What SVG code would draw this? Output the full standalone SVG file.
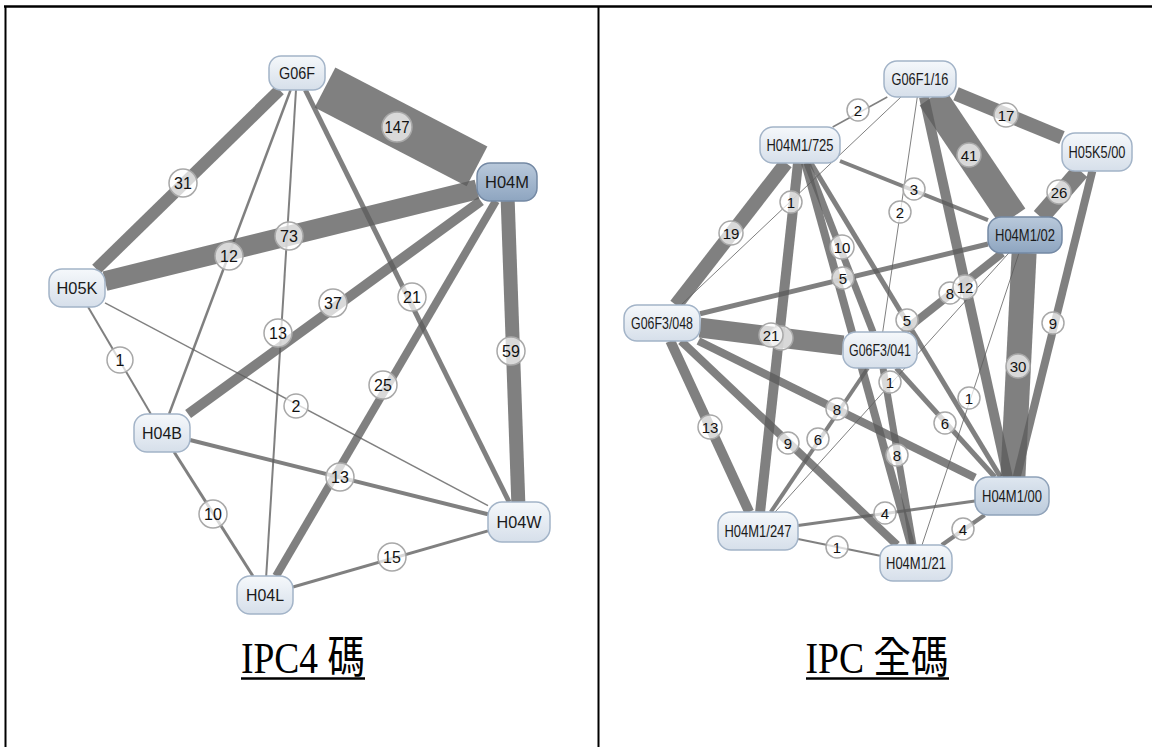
<svg xmlns="http://www.w3.org/2000/svg" width="1152" height="747" viewBox="0 0 1152 747">
  <defs>
    <linearGradient id="gNode" x1="0" y1="0" x2="0" y2="1">
      <stop offset="0" stop-color="#f5f8fb"/>
      <stop offset="1" stop-color="#d6dfea"/>
    </linearGradient>
    <linearGradient id="gSel" x1="0" y1="0" x2="0" y2="1">
      <stop offset="0" stop-color="#b9c9db"/>
      <stop offset="1" stop-color="#8ea5c0"/>
    </linearGradient>
    <linearGradient id="gMid" x1="0" y1="0" x2="0" y2="1">
      <stop offset="0" stop-color="#dfe7f0"/>
      <stop offset="1" stop-color="#bccbdc"/>
    </linearGradient>
  </defs>
  <style>
    .frame { stroke: #000; fill: none; }
    .e { stroke: #5c5c5c; stroke-opacity: 0.78; fill: none; stroke-linecap: butt; }
    .lb circle { fill: #fff; fill-opacity: 0.7; stroke: #a8a8a8; stroke-width: 1.5; }
    .lb text { font-family: "Liberation Sans", Arial, sans-serif; font-size: 16px; fill: #111; text-anchor: middle; }
    .rg .lb text { font-size: 15px; }
    .node rect { fill: url(#gNode); stroke: #a3b4c8; stroke-width: 1.5; }
    .node.sel rect { fill: url(#gSel); stroke: #7489a4; }
    .node.mid rect { fill: url(#gMid); stroke: #8fa2b9; }
    .node text { font-family: "Liberation Sans", Arial, sans-serif; font-size: 17px; fill: #1a1a1a; text-anchor: middle; }
    .rg .node text { font-size: 17px; }
    .cap { font-family: "Liberation Serif", "Noto Sans CJK TC", serif; font-size: 44px; fill: #000; text-anchor: middle; }
  </style>

  <rect width="1152" height="747" fill="#fff"/>

  <!-- table frame -->
  <g id="frame">
    <line class="frame" x1="4" y1="6.5" x2="1152" y2="6.5" stroke-width="2.5"/>
    <line class="frame" x1="5.5" y1="6" x2="5.5" y2="747" stroke-width="2"/>
    <line class="frame" x1="598.5" y1="6" x2="598.5" y2="747" stroke-width="2"/>
  </g>

  <!-- ===== IPC4 graph ===== -->
  <g id="left-graph" class="lg">
    <g id="left-connectors">
      <line class="e" x1="325" y1="87.5" x2="477" y2="166.4" stroke-width="45"/>
      <line class="e" x1="279.6" y1="90" x2="96.4" y2="269" stroke-width="12"/>
      <line class="e" x1="105" y1="281.1" x2="477" y2="189.4" stroke-width="20"/>
      <line class="e" x1="290.6" y1="90" x2="169.1" y2="414" stroke-width="2.5"/>
      <line class="e" x1="296" y1="90" x2="266.2" y2="576" stroke-width="2"/>
      <line class="e" x1="188.1" y1="414" x2="480.9" y2="201" stroke-width="10"/>
      <line class="e" x1="305.4" y1="90" x2="509.1" y2="502" stroke-width="5"/>
      <line class="e" x1="507.7" y1="201" x2="518.3" y2="502" stroke-width="14"/>
      <line class="e" x1="495.9" y1="201" x2="276.1" y2="576" stroke-width="8"/>
      <line class="e" x1="105" y1="302.8" x2="488" y2="505.6" stroke-width="1.5"/>
      <line class="e" x1="88.1" y1="307" x2="150.9" y2="414" stroke-width="2"/>
      <line class="e" x1="190" y1="440" x2="488" y2="514.3" stroke-width="4"/>
      <line class="e" x1="174.1" y1="452" x2="252.9" y2="576" stroke-width="3"/>
      <line class="e" x1="293" y1="587" x2="488" y2="530.9" stroke-width="3"/>

      <g class="lb"><circle cx="397" cy="127" r="15"/><text x="397" y="133" textLength="25" lengthAdjust="spacingAndGlyphs">147</text></g>
      <g class="lb"><circle cx="183" cy="183" r="14"/><text x="183" y="189">31</text></g>
      <g class="lb"><circle cx="289" cy="236" r="14"/><text x="289" y="242">73</text></g>
      <g class="lb"><circle cx="229" cy="256" r="14"/><text x="229" y="262">12</text></g>
      <g class="lb"><circle cx="278" cy="333" r="14"/><text x="278" y="339">13</text></g>
      <g class="lb"><circle cx="333" cy="303" r="14"/><text x="333" y="309">37</text></g>
      <g class="lb"><circle cx="412" cy="297" r="14"/><text x="412" y="303">21</text></g>
      <g class="lb"><circle cx="511" cy="351" r="14"/><text x="511" y="357">59</text></g>
      <g class="lb"><circle cx="383" cy="385" r="14"/><text x="383" y="391">25</text></g>
      <g class="lb"><circle cx="296" cy="406" r="12"/><text x="296" y="412">2</text></g>
      <g class="lb"><circle cx="120" cy="360" r="13"/><text x="120" y="366">1</text></g>
      <g class="lb"><circle cx="340" cy="477" r="14"/><text x="340" y="483">13</text></g>
      <g class="lb"><circle cx="213" cy="514" r="14"/><text x="213" y="520">10</text></g>
      <g class="lb"><circle cx="392" cy="557" r="14"/><text x="392" y="563">15</text></g>
    </g>

    <g id="n-G06F" class="node"><rect x="269" y="56" width="56" height="34" rx="12"/><text x="297" y="79" textLength="36" lengthAdjust="spacingAndGlyphs">G06F</text></g>
    <g id="n-H04M" class="node sel"><rect x="477" y="163" width="60" height="38" rx="13"/><text x="507" y="188" textLength="44" lengthAdjust="spacingAndGlyphs">H04M</text></g>
    <g id="n-H05K" class="node"><rect x="49" y="269" width="56" height="38" rx="13"/><text x="77" y="294" textLength="41" lengthAdjust="spacingAndGlyphs">H05K</text></g>
    <g id="n-H04B" class="node"><rect x="134" y="414" width="56" height="38" rx="13"/><text x="162" y="439" textLength="40" lengthAdjust="spacingAndGlyphs">H04B</text></g>
    <g id="n-H04L" class="node"><rect x="237" y="576" width="56" height="38" rx="13"/><text x="265" y="601" textLength="38" lengthAdjust="spacingAndGlyphs">H04L</text></g>
    <g id="n-H04W" class="node"><rect x="488" y="502" width="62" height="40" rx="14"/><text x="519" y="528" textLength="45" lengthAdjust="spacingAndGlyphs">H04W</text></g>
  </g>

  <!-- ===== full IPC graph ===== -->
  <g id="right-graph" class="rg">
    <g id="right-connectors">
      <line class="e" x1="887.3" y1="97" x2="832.7" y2="127" stroke-width="1.5"/>
      <line class="e" x1="956" y1="93.8" x2="1062" y2="137.6" stroke-width="14"/>
      <line class="e" x1="932.1" y1="97" x2="1012.9" y2="217" stroke-width="30"/>
      <line class="e" x1="1080.5" y1="171" x2="1040.6" y2="217" stroke-width="18"/>
      <line class="e" x1="840" y1="161" x2="988" y2="220.2" stroke-width="4"/>
      <line class="e" x1="917.3" y1="97" x2="882.7" y2="332" stroke-width="1"/>
      <line class="e" x1="901" y1="97" x2="681" y2="305" stroke-width="1"/>
      <line class="e" x1="786.1" y1="163" x2="675.9" y2="305" stroke-width="14"/>
      <line class="e" x1="807" y1="163" x2="873" y2="332" stroke-width="7"/>
      <line class="e" x1="700" y1="313.8" x2="988" y2="244" stroke-width="5"/>
      <line class="e" x1="902.7" y1="332" x2="1002.3" y2="253" stroke-width="8"/>
      <line class="e" x1="924" y1="97" x2="1007.8" y2="477" stroke-width="10"/>
      <line class="e" x1="810.9" y1="163" x2="1000.5" y2="477" stroke-width="5"/>
      <line class="e" x1="700" y1="327.7" x2="843" y2="345.4" stroke-width="20"/>
      <line class="e" x1="798" y1="163" x2="760.1" y2="512" stroke-width="10"/>
      <line class="e" x1="1024.1" y1="253" x2="1012.9" y2="477" stroke-width="25"/>
      <line class="e" x1="1092.3" y1="171" x2="1016.7" y2="477" stroke-width="8"/>
      <line class="e" x1="1008.8" y1="253" x2="775.1" y2="512" stroke-width="1"/>
      <line class="e" x1="1019" y1="253" x2="922" y2="545" stroke-width="1"/>
      <line class="e" x1="896.3" y1="368" x2="994.8" y2="477" stroke-width="5"/>
      <line class="e" x1="698.4" y1="341" x2="975" y2="477.7" stroke-width="8"/>
      <line class="e" x1="867.9" y1="368" x2="770.8" y2="512" stroke-width="4"/>
      <line class="e" x1="681" y1="341" x2="897" y2="545" stroke-width="8"/>
      <line class="e" x1="670.3" y1="341" x2="749.2" y2="512" stroke-width="10"/>
      <line class="e" x1="883" y1="368" x2="913" y2="545" stroke-width="7"/>
      <line class="e" x1="805" y1="163" x2="911" y2="545" stroke-width="8"/>
      <line class="e" x1="798" y1="525.5" x2="975" y2="501.1" stroke-width="3"/>
      <line class="e" x1="941.8" y1="545" x2="984.7" y2="515" stroke-width="4"/>
      <line class="e" x1="798" y1="539.1" x2="880" y2="555.7" stroke-width="2"/>

      <g class="lb"><circle cx="858" cy="110" r="11"/><text x="858" y="115.5">2</text></g>
      <g class="lb"><circle cx="1006" cy="115" r="12"/><text x="1006" y="120.5">17</text></g>
      <g class="lb"><circle cx="969" cy="155" r="12"/><text x="969" y="160.5">41</text></g>
      <g class="lb"><circle cx="1059" cy="192" r="12"/><text x="1059" y="197.5">26</text></g>
      <g class="lb"><circle cx="914" cy="189" r="11"/><text x="914" y="194.5">3</text></g>
      <g class="lb"><circle cx="900" cy="212" r="11"/><text x="900" y="217.5">2</text></g>
      <g class="lb"><circle cx="791" cy="202" r="11"/><text x="791" y="207.5">1</text></g>
      <g class="lb"><circle cx="731" cy="233" r="12"/><text x="731" y="238.5">19</text></g>
      <g class="lb"><circle cx="842" cy="247" r="12"/><text x="842" y="252.5">10</text></g>
      <g class="lb"><circle cx="843" cy="278" r="11"/><text x="843" y="283.5">5</text></g>
      <g class="lb"><circle cx="950" cy="293" r="11"/><text x="950" y="298.5">8</text></g>
      <g class="lb"><circle cx="965" cy="287" r="12"/><text x="965" y="292.5">12</text></g>
      <g class="lb"><circle cx="907" cy="320" r="11"/><text x="907" y="325.5">5</text></g>
      <g class="lb"><circle cx="781" cy="338" r="12"/></g>
      <g class="lb"><circle cx="771" cy="335" r="12"/><text x="771" y="340.5">21</text></g>
      <g class="lb"><circle cx="1018" cy="366" r="12"/><text x="1018" y="371.5">30</text></g>
      <g class="lb"><circle cx="1053" cy="323" r="11"/><text x="1053" y="328.5">9</text></g>
      <g class="lb"><circle cx="890" cy="382" r="11"/><text x="890" y="387.5">1</text></g>
      <g class="lb"><circle cx="969" cy="398" r="11"/><text x="969" y="403.5">1</text></g>
      <g class="lb"><circle cx="945" cy="423" r="11"/><text x="945" y="428.5">6</text></g>
      <g class="lb"><circle cx="837" cy="409" r="11"/><text x="837" y="414.5">8</text></g>
      <g class="lb"><circle cx="818" cy="439" r="11"/><text x="818" y="444.5">6</text></g>
      <g class="lb"><circle cx="788" cy="443" r="11"/><text x="788" y="448.5">9</text></g>
      <g class="lb"><circle cx="710" cy="427" r="12"/><text x="710" y="432.5">13</text></g>
      <g class="lb"><circle cx="897" cy="455" r="11"/><text x="897" y="460.5">8</text></g>
      <g class="lb"><circle cx="885" cy="513" r="11"/><text x="885" y="518.5">4</text></g>
      <g class="lb"><circle cx="963" cy="529" r="11"/><text x="963" y="534.5">4</text></g>
      <g class="lb"><circle cx="837" cy="547" r="11"/><text x="837" y="552.5">1</text></g>
    </g>

    <g id="n-G06F1-16" class="node"><rect x="884" y="61" width="72" height="36" rx="13"/><text x="920" y="85" textLength="57" lengthAdjust="spacingAndGlyphs">G06F1/16</text></g>
    <g id="n-H04M1-725" class="node"><rect x="760" y="127" width="80" height="36" rx="13"/><text x="800" y="151" textLength="67" lengthAdjust="spacingAndGlyphs">H04M1/725</text></g>
    <g id="n-H05K5-00" class="node"><rect x="1062" y="133" width="70" height="38" rx="13"/><text x="1097" y="158" textLength="57" lengthAdjust="spacingAndGlyphs">H05K5/00</text></g>
    <g id="n-H04M1-02" class="node sel"><rect x="988" y="217" width="74" height="36" rx="13"/><text x="1025" y="241" textLength="60" lengthAdjust="spacingAndGlyphs">H04M1/02</text></g>
    <g id="n-G06F3-048" class="node"><rect x="624" y="305" width="76" height="36" rx="13"/><text x="662" y="329" textLength="62" lengthAdjust="spacingAndGlyphs">G06F3/048</text></g>
    <g id="n-G06F3-041" class="node"><rect x="843" y="332" width="74" height="36" rx="13"/><text x="880" y="356" textLength="62" lengthAdjust="spacingAndGlyphs">G06F3/041</text></g>
    <g id="n-H04M1-00" class="node mid"><rect x="975" y="477" width="74" height="38" rx="13"/><text x="1012" y="502" textLength="60" lengthAdjust="spacingAndGlyphs">H04M1/00</text></g>
    <g id="n-H04M1-247" class="node"><rect x="718" y="512" width="80" height="38" rx="13"/><text x="758" y="537" textLength="67" lengthAdjust="spacingAndGlyphs">H04M1/247</text></g>
    <g id="n-H04M1-21" class="node"><rect x="880" y="545" width="72" height="36" rx="13"/><text x="916" y="569" textLength="60" lengthAdjust="spacingAndGlyphs">H04M1/21</text></g>
  </g>

  <!-- captions -->
  <g id="captions">
    <text class="cap" x="303" y="673" textLength="124" lengthAdjust="spacingAndGlyphs">IPC4 碼</text>
    <line x1="241" y1="678.5" x2="365" y2="678.5" stroke="#000" stroke-width="2.5"/>
    <text class="cap" x="877" y="673" textLength="143" lengthAdjust="spacingAndGlyphs">IPC 全碼</text>
    <line x1="806" y1="678.5" x2="949" y2="678.5" stroke="#000" stroke-width="2.5"/>
  </g>
</svg>
